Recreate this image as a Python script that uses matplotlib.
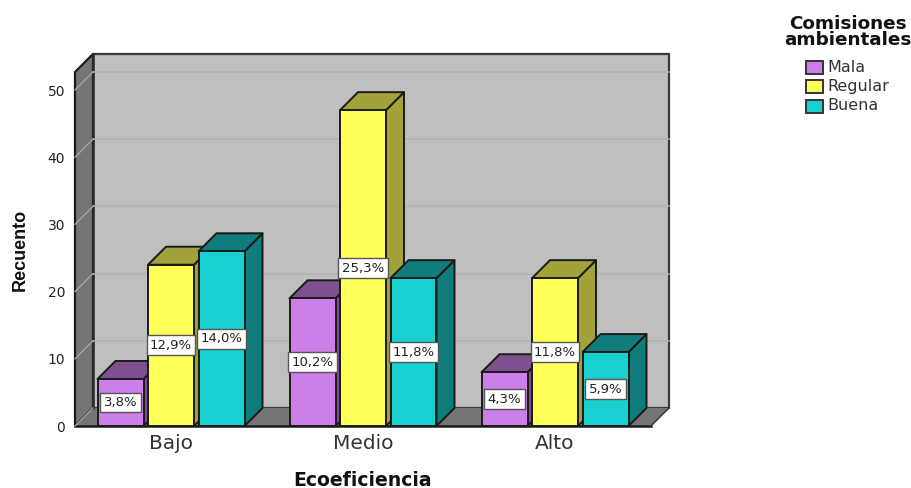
import matplotlib
matplotlib.use('Agg')
import matplotlib.pyplot as plt
from matplotlib.patches import Polygon, Rectangle

categories = ['Bajo', 'Medio', 'Alto']
series = ['Mala', 'Regular', 'Buena']
mala = [7, 19, 8]
regular = [24, 47, 22]
buena = [26, 22, 11]
pct_mala = ['3,8%', '10,2%', '4,3%']
pct_regular = ['12,9%', '25,3%', '11,8%']
pct_buena = ['14,0%', '11,8%', '5,9%']
yticks = [0, 10, 20, 30, 40, 50]

front = ['#cc7fe8', '#ffff5a', '#19d0d0']
side = ['#7f4f8f', '#a3a13a', '#107c7c']
wall = '#bfbfbf'
dark_wall = '#757575'
edge = '#1a1a1a'

fig = plt.figure(figsize=(9.11, 4.88), dpi=100)
ax = fig.add_axes([75 / 911, 62 / 488, 576 / 911, 354 / 488])
ymax = 354 / 6.72
ax.set_xlim(-0.5, 2.5)
ax.set_ylim(0, ymax)

# depth of the fake 3D box, in data units
dx = 18 / 192
dy = 18 / 6.72


def poly(pts, color, ec=edge, lw=1.4, z=1):
    ax.add_patch(Polygon(pts, closed=True, fc=color, ec=ec, lw=lw, zorder=z,
                         clip_on=False, joinstyle='round'))


# walls and floor
poly([(-0.5 + dx, dy), (2.5 + dx, dy), (2.5 + dx, ymax + dy), (-0.5 + dx, ymax + dy)], wall, ec='#3a3a3a', lw=1.6)
poly([(-0.5, 0), (-0.5 + dx, dy), (-0.5 + dx, ymax + dy), (-0.5, ymax)], dark_wall, lw=1.6)
poly([(-0.5, 0), (2.5, 0), (2.5 + dx, dy), (-0.5 + dx, dy)], dark_wall, ec='none', lw=0)
ax.plot([-0.5, 2.5], [0, 0], color=edge, lw=1.8, zorder=2, clip_on=False)
ax.plot([2.5, 2.5 + dx], [0, dy], color='#333333', lw=1, zorder=2, clip_on=False)
ax.plot([-0.5 + dx, -0.5 + dx], [dy, ymax + dy], color='#2a2a2a', lw=1.8, zorder=2, clip_on=False)

# gridlines run across the side wall and the back wall
for t in yticks:
    ax.plot([-0.5, -0.5 + dx], [t, t + dy], color='#a9a9a9', lw=0.9, zorder=2, clip_on=False)
    if t > 0:
        ax.plot([-0.5 + dx, 2.5 + dx], [t + dy, t + dy], color='#b2b2b2', lw=1.1, zorder=2, clip_on=False)

width = 46 / 192
offsets = [-50.5 / 192, 0, 50.5 / 192]
values = [mala, regular, buena]
labels = [pct_mala, pct_regular, pct_buena]

z = 3
for g in range(len(categories)):
    for s in range(len(series)):
        h = values[s][g]
        x0 = g + offsets[s] - width / 2
        x1 = x0 + width
        poly([(x1, 0), (x1 + dx, dy), (x1 + dx, h + dy), (x1, h)], side[s], z=z)
        poly([(x0, h), (x1, h), (x1 + dx, h + dy), (x0 + dx, h + dy)], side[s], z=z)
        poly([(x0, 0), (x1, 0), (x1, h), (x0, h)], front[s], z=z)
        z += 1

for g in range(len(categories)):
    for s in range(len(series)):
        ax.text(g + offsets[s], values[s][g] / 2, labels[s][g], ha='center', va='center',
                fontsize=9.5, color='#222222', zorder=30,
                bbox=dict(boxstyle='square,pad=0.26', fc='white', ec='#555555', lw=1))

for sp in ax.spines.values():
    sp.set_visible(False)
ax.patch.set_visible(False)
ax.set_xticks(range(len(categories)))
ax.set_xticklabels(categories, fontsize=14.5, color='#333333')
ax.set_yticks(yticks)
ax.set_yticklabels([str(t) for t in yticks], fontsize=10, color='#222222')
ax.tick_params(axis='x', length=0, pad=6)
ax.tick_params(axis='y', length=0, pad=7)

fig.text(362.5 / 911, 1 - 480 / 488, 'Ecoeficiencia', ha='center', va='center', fontsize=13.6, fontweight='bold', color='#111111')
fig.text(20 / 911, 1 - 250 / 488, 'Recuento', ha='center', va='center', rotation=90,
         fontsize=13, fontweight='bold', color='#111111', family='Liberation Sans')

# legend
fig.text(847.5 / 911, 1 - 32 / 488, 'Comisiones\nambientales', ha='center', va='center', fontsize=13.2,
         fontweight='bold', color='#111111', linespacing=0.9)
for i, name in enumerate(series):
    ypx = 67 + i * 19.5
    fig.add_artist(Rectangle((806 / 911, 1 - (ypx + 6.5) / 488), 17 / 911, 13 / 488, transform=fig.transFigure,
                             fc=front[i], ec='#333333', lw=1.4))
    fig.text(827 / 911, 1 - ypx / 488, name, ha='left', va='center', fontsize=11.5, color='#333333')

fig.savefig('out.png', dpi=100)
